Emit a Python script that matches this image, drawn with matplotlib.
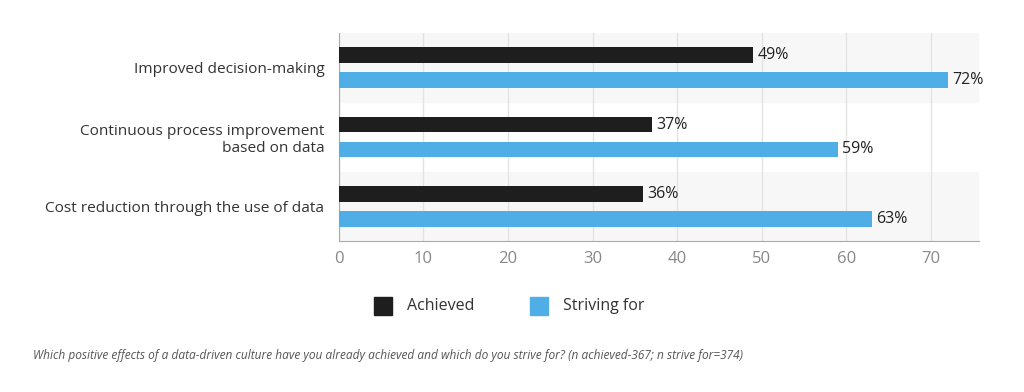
import matplotlib.pyplot as plt
import numpy as np
from matplotlib.patches import Rectangle

plt.rcParams['font.family'] = ['Open Sans', 'DejaVu Sans']

categories = ["Improved decision-making",
              "Continuous process improvement\nbased on data",
              "Cost reduction through the use of data"]
achieved = [49, 37, 36]
striving = [72, 59, 63]
series_names = ["Achieved", "Striving for"]
colors = ["#1e1e1e", "#4faee6"]

fig = plt.figure(figsize=(10.24, 3.92), dpi=100)
ax = fig.add_axes([0.331, 0.385, 0.625, 0.531])

y = np.arange(len(categories))
h = 0.22
off = 0.18

# alternating band backgrounds
for i in range(len(categories)):
    if i % 2 == 0:
        ax.axhspan(i - 0.5, i + 0.5, color="#f7f7f7", zorder=0)

ax.barh(y - off, achieved, height=h, color=colors[0], zorder=3, label=series_names[0])
ax.barh(y + off, striving, height=h, color=colors[1], zorder=3, label=series_names[1])

for yi, v in zip(y - off, achieved):
    ax.text(v + 0.5, yi, f"{v}%", va="center", ha="left", fontsize=11.5,
            color="#222222", fontweight="medium")
for yi, v in zip(y + off, striving):
    ax.text(v + 0.5, yi, f"{v}%", va="center", ha="left", fontsize=11.5,
            color="#222222", fontweight="medium")

ax.set_ylim(len(categories) - 0.5, -0.5)
ax.set_xlim(0, 75.7)
ax.set_yticks(y)
ax.set_yticklabels(categories, fontsize=11.1, color="#333333", ha="right",
                   multialignment="right")
ax.tick_params(axis="y", length=0, pad=10.5)
ax.set_xticks(range(0, 80, 10))
ax.tick_params(axis="x", length=0, labelsize=12, labelcolor="#888888", pad=7)
ax.grid(axis="x", color="#e3e3e3", linewidth=1, zorder=1)
ax.set_axisbelow(True)
for s in ["top", "right"]:
    ax.spines[s].set_visible(False)
ax.spines["left"].set_color("#aaaaaa")
ax.spines["bottom"].set_color("#aaaaaa")

# legend
for name, c, xs in zip(series_names, colors, [374, 530]):
    fig.patches.append(Rectangle((xs / 1024, 1 - 315 / 392), 18 / 1024, 18 / 392,
                                 transform=fig.transFigure, color=c))
    fig.text((xs + 33) / 1024, 1 - 306 / 392, name, fontsize=11.5, color="#333333",
             va="center", ha="left")

fig.text(33 / 1024, 1 - 355 / 392,
         "Which positive effects of a data-driven culture have you already achieved and which do you strive for? (n achieved-367; n strive for=374)",
         fontsize=8.6, style="italic", color="#555555", va="center", ha="left")

fig.savefig("out.png", dpi=100)
